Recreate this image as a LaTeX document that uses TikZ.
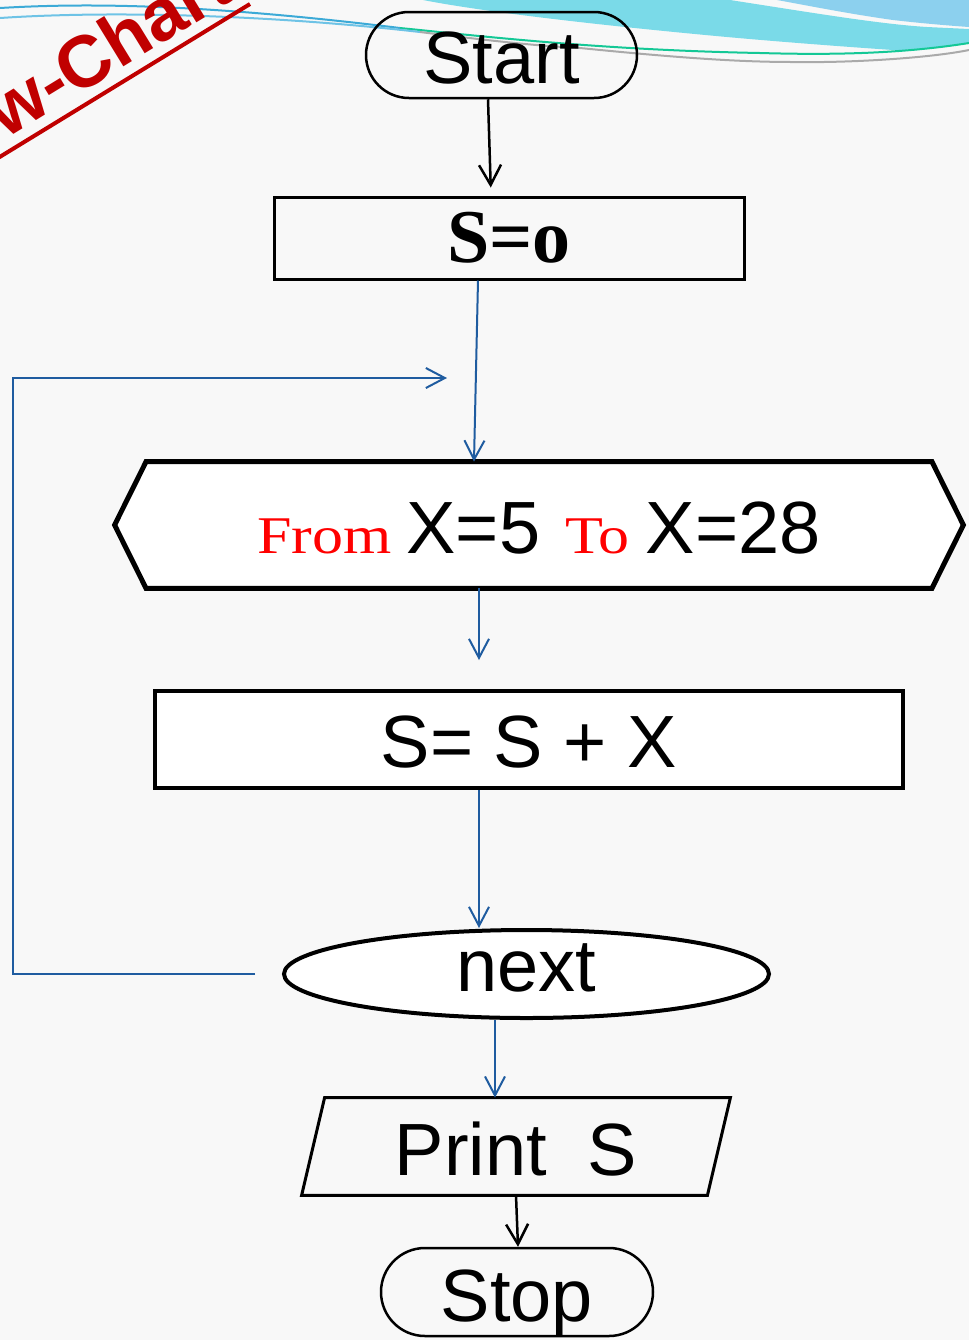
\documentclass[tikz,border=0pt]{standalone}
\usepackage{fontspec}
\setmainfont{Liberation Sans}
\newfontfamily\arialf{Liberation Sans}
\newfontfamily\timesf{Liberation Serif}
\newfontfamily\wideserif{Liberation Serif}[FakeStretch=1.17]
\usetikzlibrary{arrows.meta,shapes.geometric}

\definecolor{paper}{RGB}{248,248,248}
\definecolor{linkblue}{RGB}{31,92,160}
\definecolor{stampred}{RGB}{192,0,0}
\definecolor{wavecyan}{RGB}{122,218,232}
\definecolor{wavesky}{RGB}{140,208,238}
\definecolor{lineblue}{RGB}{60,170,215}
\definecolor{linepale}{RGB}{110,195,230}
\definecolor{linegreen}{RGB}{20,200,150}
\definecolor{linegray}{RGB}{170,170,170}

% red serif keywords inside the loop header
\newcommand\redword[1]{{\color{red}\wideserif\fontsize{26.5pt}{30pt}\selectfont #1}}

\pgfdeclarelayer{paperlayer}
\pgfdeclarelayer{underlayer}
\pgfsetlayers{paperlayer,underlayer,main}

\tikzset{
  base/.style={inner sep=0pt, text depth=0pt,
    font=\arialf\fontsize{37pt}{44pt}\selectfont},
  terminal/.style={base, draw, line width=1.25pt},
  blackflow/.style={line width=1.25pt, -{Straight Barb[length=10pt,width=11pt]}},
  blueflow/.style={draw=linkblue, line width=1pt,
    -{Straight Barb[length=9.5pt,width=10pt]}}
}

\begin{document}
\begin{tikzpicture}[x=0.5pt,y=-0.5pt]
\useasboundingbox (0,0) rectangle (969,1340);
\begin{pgfonlayer}{paperlayer}
  \fill[paper] (0,0) rectangle (969,1340);
\end{pgfonlayer}

% header waves and title stamp
\begin{scope}
  \clip (0,0) rectangle (969,1340);
  \fill[wavesky] (777,0) -- (969,0) -- (969,27)
    .. controls (940,25) and (910,22) .. (893,20)
    .. controls (850,14) and (810,6) .. (777,0) -- cycle;
  \fill[wavecyan] (423,0) -- (730,0)
    .. controls (820,14) and (880,24) .. (927,27) -- (969,29) -- (969,43)
    .. controls (950,47) and (920,50) .. (893,50)
    .. controls (820,45) and (760,40) .. (727,37)
    .. controls (650,30) and (500,15) .. (423,0) -- cycle;
  \draw[lineblue, line width=1pt] (0,8) .. controls (100,2) and (220,6) .. (400,28);
  \draw[linegreen, line width=1pt] (400,28) .. controls (480,36) and (600,50) .. (760,53)
    .. controls (830,55) and (900,54) .. (969,43);
  \draw[linepale, line width=1pt] (0,18) .. controls (120,10) and (280,16) .. (420,32);
  \draw[linegray, line width=1pt] (420,32) .. controls (500,42) and (540,46) .. (580,48)
    .. controls (680,58) and (740,62) .. (793,62)
    .. controls (850,63) and (930,58) .. (969,50);
  \node[anchor=base west, rotate=31.5, inner sep=0pt, text=stampred,
    font=\arialf\bfseries\fontsize{36.5pt}{40pt}\selectfont] (stamp) at (-88,197) {Flow-Chart};
  \draw[stampred, line width=2pt] (-20,169) -- (250,4);
\end{scope}

% flowchart blocks
\node[terminal, rounded corners=21.5pt, minimum width=135.5pt, minimum height=43pt,
  text height=28pt] (start) at (501.5,55) {Start};

\node[base, draw, line width=1.5pt, minimum width=235pt, minimum height=41pt,
  text height=24pt, font=\timesf\bfseries\fontsize{38pt}{44pt}\selectfont] (so) at (509,238) {S=o};

\node[base, minimum width=424pt, minimum height=63pt, text height=28pt] (hex) at (539,525)
  {\redword{From}\hspace{7.5pt}X=5\hspace{12.5pt}\redword{To}\hspace{8pt}X=28};
\begin{pgfonlayer}{underlayer}
  \filldraw[fill=white, line width=2.5pt]
    ([xshift=15.75pt]hex.north west) -- ([xshift=-15.75pt]hex.north east) -- (hex.east)
    -- ([xshift=-15.75pt]hex.south east) -- ([xshift=15.75pt]hex.south west) -- (hex.west) -- cycle;
\end{pgfonlayer}

\node[base, draw, fill=white, line width=2pt, minimum width=374pt, minimum height=48.5pt,
  text height=27.5pt] (calc) at (529,739.5) {S= S + X};

\node[base, ellipse, draw, fill=white, line width=2pt, minimum width=242.5pt, minimum height=44pt,
  text height=17pt] (next) at (526.5,974) {next};

\node[base, minimum width=202.5pt, minimum height=48.5pt, text height=28.5pt] (print)
  at (516,1146.5) {Print\ \ S};
\draw[line width=1.5pt]
  ([xshift=5.75pt]print.north west) -- ([xshift=5.75pt]print.north east)
  -- ([xshift=-5.75pt]print.south east) -- ([xshift=-5.75pt]print.south west) -- cycle;

\node[terminal, rounded corners=22pt, minimum width=136pt, minimum height=44pt,
  text height=29pt] (stop) at (517,1292) {Stop};

% connectors
\draw[blackflow, shorten >=4pt] ([xshift=-6.75pt]start.south) -- ([xshift=-9pt]so.north);
\draw[blueflow] ([xshift=-15.5pt]so.south) -- ([xshift=-32.5pt]hex.north);
\draw[blueflow, shorten >=14.5pt] ([xshift=-30pt]hex.south) -- ([xshift=-25pt]calc.north);
\draw[blueflow] ([xshift=-25pt]calc.south) -- ([xshift=-23.75pt]next.north);
\draw[blueflow] ([xshift=-15.75pt]next.south) -- ([xshift=-10.5pt]print.north);
\draw[blackflow] (print.south) -- ([xshift=0.5pt]stop.north);

% loop back to the counter
\coordinate (loopfrom) at ([xshift=-13.5pt]next.west);
\coordinate (looptip) at (447,378);
\draw[blueflow] (loopfrom) -- ++(-121pt,0) |- (looptip);
\end{tikzpicture}
\end{document}
